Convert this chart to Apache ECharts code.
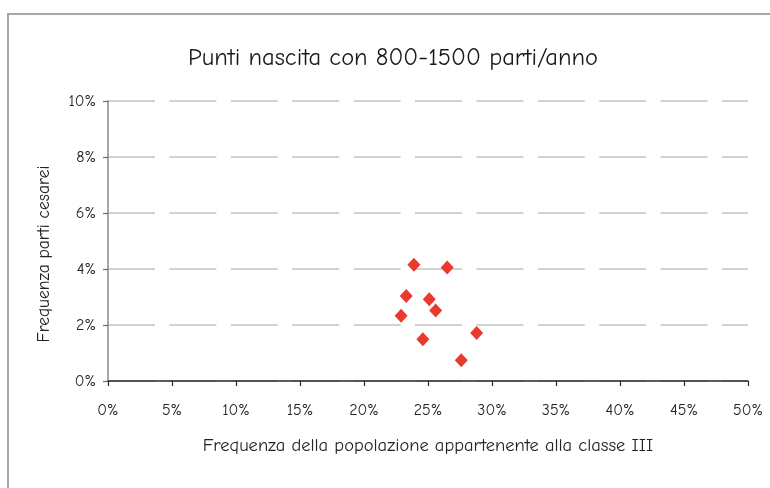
<!DOCTYPE html>
<html>
<head>
<meta charset="utf-8">
<script src="https://cdn.jsdelivr.net/npm/echarts@6/dist/echarts.min.js"></script>
<style>
  html, body { margin: 0; padding: 0; background: #fff; }
  #chart { width: 770px; height: 488px; }
</style>
</head>
<body>
<div id="chart"></div>
<script>
// Frequenza popolazione classe III (%) vs frequenza parti cesarei (%)
var classeIII = [23.9, 26.5, 23.3, 25.1, 25.6, 22.9, 28.8, 24.6, 27.6];
var cesarei   = [4.15, 4.05, 3.04, 2.92, 2.52, 2.33, 1.71, 1.49, 0.74];

var titleText = 'Punti nascita con 800-1500 parti/anno';
var xName = 'Frequenza della popolazione appartenente alla classe III';
var yName = 'Frequenza parti cesarei';

var FONT = '"Comic Sans MS", "Comic Neue", Lato, "Noto Sans", sans-serif';

var points = classeIII.map(function (x, i) { return [x, cesarei[i]]; });

var chart = echarts.init(document.getElementById('chart'), null, { renderer: 'canvas' });
chart.setOption({
  animation: false,
  backgroundColor: '#ffffff',
  textStyle: { fontFamily: FONT },
  graphic: [{
    type: 'rect',
    shape: { x: 8, y: 14, width: 800, height: 520 },
    style: { fill: 'none', stroke: '#a8a8a8', lineWidth: 2 },
    silent: true
  }],
  title: {
    text: titleText,
    left: 388,
    textAlign: 'center',
    top: 41,
    textStyle: { fontFamily: FONT, fontSize: 24.5, fontWeight: 'normal', color: '#1a1a1a' }
  },
  grid: { left: 108, right: 22, top: 101, bottom: 107 },
  xAxis: {
    type: 'value',
    min: 0, max: 50, interval: 5,
    name: xName,
    nameLocation: 'middle',
    nameGap: 55,
    nameTextStyle: { fontFamily: FONT, fontSize: 18.5, color: '#222' },
    axisLine: { show: true, onZero: false, lineStyle: { color: '#2a2a2a', width: 1.5 } },
    axisTick: { show: true, inside: false, length: 5, lineStyle: { color: '#2a2a2a', width: 1.2 } },
    axisLabel: { formatter: '{value}%', margin: 21, fontFamily: FONT, fontSize: 16, color: '#222' },
    splitLine: { show: false }
  },
  yAxis: {
    type: 'value',
    min: 0, max: 10, interval: 2,
    name: yName,
    nameLocation: 'middle',
    nameGap: 55,
    nameRotate: 90,
    nameTextStyle: { fontFamily: FONT, fontSize: 17.5, color: '#222', padding: [0, 26, 0, 0] },
    axisLine: { show: true, onZero: false, lineStyle: { color: '#8a8a8a', width: 1.5 } },
    axisTick: { show: true, inside: false, length: 5, lineStyle: { color: '#6a6a6a', width: 1.2 } },
    axisLabel: { formatter: '{value}%', margin: 12, fontFamily: FONT, fontSize: 16, color: '#222' },
    splitLine: { show: true, lineStyle: { color: '#c4c4c4', width: 1.5, type: [47, 14.4] } }
  },
  series: [{
    type: 'scatter',
    data: points,
    symbol: 'diamond',
    symbolSize: [13, 14],
    itemStyle: { color: '#ea3a2e', opacity: 1 }
  }]
});
</script>
</body>
</html>
